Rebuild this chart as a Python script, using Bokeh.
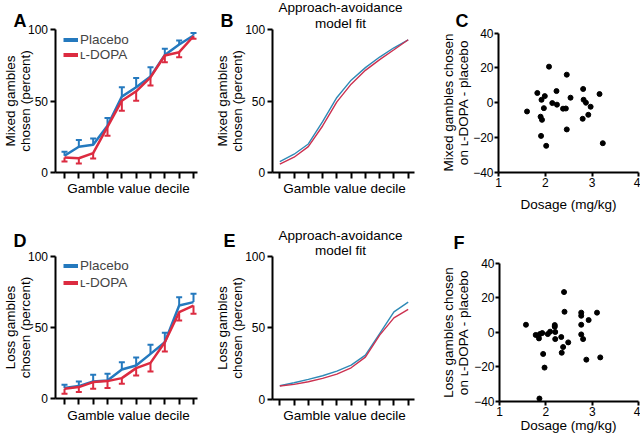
import math
from bokeh.plotting import figure
from bokeh.layouts import column, row
from bokeh.models import (Range1d, FixedTicker, Whisker, TeeHead, ColumnDataSource,
                          Label, Legend, LegendItem)
from bokeh.embed import file_html
from bokeh.resources import INLINE

FONT = "Liberation Sans"
BLUE = "#2479be"
RED = "#dc2b40"
BLUE_FIT = "#2e8ab6"
RED_FIT = "#cc3150"

# ---------------- data ----------------
deciles = [1, 2, 3, 4, 5, 6, 7, 8, 9, 10]
pct_ticks = [0, 50, 100]
diff_ticks = [-40, -20, 0, 20, 40]
dose_ticks = [1, 2, 3, 4]

mixed_placebo_mean = [11.7, 18.0, 19.4, 32.8, 53.2, 59.7, 67.2, 82.4, 89.7, 96.0]
mixed_placebo_sem = [2.8, 4.7, 4.5, 5.4, 6.5, 6.6, 6.6, 4.3, 2.8, 1.7]
mixed_ldopa_mean = [10.5, 10.0, 13.6, 32.0, 50.3, 56.9, 66.7, 82.0, 84.3, 95.5]
mixed_ldopa_sem = [2.8, 3.7, 3.8, 6.2, 7.0, 6.6, 5.8, 4.7, 3.5, 1.8]

loss_placebo_mean = [7.5, 8.9, 12.1, 12.9, 20.6, 23.4, 31.5, 39.7, 65.4, 67.8]
loss_placebo_sem = [2.3, 3.2, 4.7, 4.6, 5.1, 5.6, 6.4, 6.6, 5.9, 5.8]
loss_ldopa_mean = [7.0, 8.2, 11.7, 12.4, 14.5, 21.5, 25.2, 39.7, 60.7, 65.4]
loss_ldopa_sem = [3.5, 3.5, 4.7, 4.9, 4.0, 5.1, 6.0, 6.5, 5.8, 5.8]

fit_mixed_placebo = [7.7, 12.8, 20.0, 35.6, 52.6, 64.7, 73.5, 80.9, 87.4, 93.0]
fit_mixed_ldopa = [5.8, 10.7, 18.1, 32.6, 49.5, 61.9, 71.6, 79.1, 86.0, 93.0]
fit_loss_placebo = [9.3, 11.4, 13.8, 16.3, 19.6, 23.8, 30.8, 45.9, 61.1, 68.0]
fit_loss_ldopa = [9.1, 10.3, 12.1, 14.5, 17.5, 21.9, 29.4, 44.8, 56.9, 62.9]

dosage_mixed = [1.61, 1.83, 1.92, 1.99, 1.97, 1.90, 1.93, 1.91, 2.02, 2.08, 2.15, 2.24, 2.25,
                2.38, 2.44, 2.46, 2.54, 2.46, 2.81, 2.82, 2.87, 2.97, 2.92, 2.80, 3.16, 3.23]
diff_mixed = [-5.0, 5.6, 1.7, 3.8, -3.1, -8.0, -9.8, -19.0, -24.7, 20.7, -0.2, 6.7, -1.1,
              -3.4, -3.3, 16.1, 2.9, -15.3, 7.9, 1.7, 0.0, -2.3, -6.9, -9.2, 5.0, -23.2]

dosage_loss = [1.57, 1.78, 1.83, 1.85, 1.87, 1.92, 1.86, 1.94, 1.97, 2.04, 2.09, 2.19, 2.19,
               2.20, 2.20, 2.33, 2.37, 2.34, 2.39, 2.40, 2.48, 2.76, 2.76, 2.76, 2.76, 2.80,
               2.87, 2.92, 3.10, 3.17]
diff_loss = [4.4, -1.5, -1.9, -3.5, -1.0, -0.4, -38.3, -12.5, -20.4, -1.0, 0.4, 4.2, 3.2,
             0.2, -3.9, -2.7, -8.5, -11.8, 23.3, 11.9, -5.8, 11.4, 9.6, 4.4, -1.2, -3.9,
             -15.8, 7.1, 11.4, -14.5]

# ---------------- layout (pixels) ----------------
# tile = (left, top, width, height) of each panel on the page
# xmap / ymap = (value_a, pixel_a, value_b, pixel_b) placement of the data region
PANELS = {
    "A": dict(tile=(0, 0, 212, 213), xmap=(1, 64.0, 10, 193.0), ymap=(0, 172.0, 100, 29.3),
              yaxis_px=54.5, xend_px=196.7),
    "B": dict(tile=(212, 0, 213, 213), xmap=(1, 279.3, 10, 407.7), ymap=(0, 172.0, 100, 29.3),
              yaxis_px=271.7, xend_px=414.0),
    "C": dict(tile=(425, 0, 215, 213), xmap=(1, 498.0, 4, 638.3), ymap=(-40, 172.0, 40, 32.5),
              yaxis_px=498.0, xend_px=638.3),
    "D": dict(tile=(0, 213, 212, 222), xmap=(1, 64.0, 10, 193.0), ymap=(0, 398.3, 100, 255.7),
              yaxis_px=54.5, xend_px=196.7),
    "E": dict(tile=(212, 213, 213, 222), xmap=(1, 279.3, 10, 407.7), ymap=(0, 398.5, 100, 256.0),
              yaxis_px=271.7, xend_px=414.0),
    "F": dict(tile=(425, 213, 215, 222), xmap=(1, 499.0, 4, 638.3), ymap=(-40, 401.0, 40, 262.7),
              yaxis_px=499.0, xend_px=638.3),
}


def px_to_val(m, p):
    va, pa, vb, pb = m
    return va + (p - pa) * (vb - va) / (pb - pa)


def make_panel(key, x_is_decile):
    spec = PANELS[key]
    x0, y0, w, h = spec["tile"]
    xr = Range1d(px_to_val(spec["xmap"], x0), px_to_val(spec["xmap"], x0 + w))
    yr = Range1d(px_to_val(spec["ymap"], y0 + h), px_to_val(spec["ymap"], y0))
    p = figure(width=w, height=h, x_range=xr, y_range=yr, output_backend="svg",
               toolbar_location=None, min_border=0)
    p.outline_line_color = None
    p.grid.visible = False
    p.background_fill_color = "white"
    p.border_fill_color = "white"

    ya, yb = spec["ymap"][0], spec["ymap"][2]
    x_axis_val = px_to_val(spec["xmap"], spec["yaxis_px"])
    x_end_val = px_to_val(spec["xmap"], spec["xend_px"])

    xa = p.xaxis[0]
    yax = p.yaxis[0]
    for ax in (xa, yax):
        ax.axis_line_width = 2
        ax.axis_line_color = "black"
        ax.major_tick_line_width = 2
        ax.major_tick_line_color = "black"
        ax.major_tick_in = 0
        ax.minor_tick_in = 0
        ax.major_label_text_font = FONT
        ax.major_label_text_font_size = "12px"
        ax.major_label_text_color = "black"
    yax.fixed_location = x_axis_val
    yax.bounds = (min(ya, yb), max(ya, yb))
    xa.fixed_location = min(ya, yb)
    xa.bounds = (x_axis_val, x_end_val)
    yax.minor_tick_line_color = None
    if x_is_decile:
        yax.ticker = FixedTicker(ticks=pct_ticks)
        yax.major_tick_out = 5
        yax.major_label_standoff = 2
        xa.ticker = FixedTicker(ticks=[], minor_ticks=deciles)
        xa.major_tick_line_color = None
        xa.minor_tick_out = 6
        xa.minor_tick_line_width = 2
        xa.minor_tick_line_color = "black"
    else:
        yax.ticker = FixedTicker(ticks=diff_ticks)
        xa.ticker = FixedTicker(ticks=dose_ticks)
        xa.minor_tick_line_color = None
        for ax in (xa, yax):
            ax.major_tick_out = 4
            ax.major_label_standoff = 1
    return p


def add_text(p, key, px, py, text, size="13.5px", angle=0.0, align="center",
             baseline="middle", bold=False):
    x0, y0, w, h = PANELS[key]["tile"]
    p.add_layout(Label(x=px - x0, y=(y0 + h) - py, x_units="screen", y_units="screen",
                       text=text, angle=angle, text_font=FONT, text_font_size=size,
                       text_align=align, text_baseline=baseline, text_color="black",
                       text_font_style="bold" if bold else "normal"))


def ylabel(p, key, x1, x2, yc, line1, line2):
    add_text(p, key, x1, yc, line1, angle=math.pi / 2)
    add_text(p, key, x2, yc, line2, angle=math.pi / 2)


def letter(p, key, px, py, t):
    add_text(p, key, px, py, t, size="18px", align="left", baseline="alphabetic", bold=True)


def data_panel(p, key, pm, ps, lm, ls, leg_px, leg_bottom_py, spacing):
    up = [m + s for m, s in zip(pm, ps)]
    lo = [m - s for m, s in zip(lm, ls)]
    src_p = ColumnDataSource(dict(x=deciles, y=pm, top=up))
    src_l = ColumnDataSource(dict(x=deciles, y=lm, bot=lo))
    p.line("x", "y", source=src_p, line_color=BLUE, line_width=2.5)
    p.line("x", "y", source=src_l, line_color=RED, line_width=2.5)
    p.add_layout(Whisker(source=src_p, base="x", lower="y", upper="top", dimension="height",
                         line_color=BLUE, line_width=2, lower_head=None,
                         upper_head=TeeHead(size=6, line_color=BLUE, line_width=2)))
    p.add_layout(Whisker(source=src_l, base="x", lower="bot", upper="y", dimension="height",
                         line_color=RED, line_width=2, upper_head=None,
                         lower_head=TeeHead(size=6, line_color=RED, line_width=2)))
    # legend swatches: thicker copies of the series lines, kept hidden in the plot
    lp = p.line("x", "y", source=src_p, line_color=BLUE, line_width=4, visible=False)
    ll = p.line("x", "y", source=src_l, line_color=RED, line_width=4, visible=False)
    x0, y0, w, h = PANELS[key]["tile"]
    leg = Legend(items=[LegendItem(label="Placebo", renderers=[lp]),
                        LegendItem(label="\u029f-DOPA", renderers=[ll])],
                 location=(leg_px - x0, (y0 + h) - leg_bottom_py),
                 glyph_width=15, glyph_height=13, label_height=13, label_standoff=2,
                 spacing=spacing, padding=0, margin=0,
                 border_line_color=None, background_fill_alpha=0,
                 inactive_fill_alpha=0, click_policy="none",
                 label_text_font=FONT, label_text_font_size="13.5px")
    p.add_layout(leg)


def fit_panel(p, fb, fl):
    p.line(deciles, fb, line_color=BLUE_FIT, line_width=1.4)
    p.line(deciles, fl, line_color=RED_FIT, line_width=1.4)


# ---------------- panels ----------------
A = make_panel("A", True)
data_panel(A, "A", mixed_placebo_mean, mixed_placebo_sem, mixed_ldopa_mean, mixed_ldopa_sem,
           63, 62, 0)
ylabel(A, "A", 10, 25, 100.5, "Mixed gambles", "chosen (percent)")
add_text(A, "A", 128, 188, "Gamble value decile")
letter(A, "A", 13, 20, "A")

B = make_panel("B", True)
fit_panel(B, fit_mixed_placebo, fit_mixed_ldopa)
ylabel(B, "B", 222, 237, 100.5, "Mixed gambles", "chosen (percent)")
add_text(B, "B", 344, 188, "Gamble value decile")
add_text(B, "B", 340, 7, "Approach-avoidance")
add_text(B, "B", 340, 23, "model fit")
letter(B, "B", 220, 20, "B")

C = make_panel("C", False)
C.scatter(dosage_mixed, diff_mixed, size=5, color="black")
ylabel(C, "C", 448, 463, 102, "Mixed gambles chosen", "on \u029f-DOPA - placebo")
add_text(C, "C", 568, 204, "Dosage (mg/kg)")
letter(C, "C", 455, 20, "C")

D = make_panel("D", True)
data_panel(D, "D", loss_placebo_mean, loss_placebo_sem, loss_ldopa_mean, loss_ldopa_sem,
           63, 290, 2)
ylabel(D, "D", 10, 25, 327, "Loss gambles", "chosen (percent)")
add_text(D, "D", 128, 415, "Gamble value decile")
letter(D, "D", 13, 240, "D")

E = make_panel("E", True)
fit_panel(E, fit_loss_placebo, fit_loss_ldopa)
ylabel(E, "E", 222, 237, 327.5, "Loss gambles", "chosen (percent)")
add_text(E, "E", 344, 415, "Gamble value decile")
add_text(E, "E", 340, 235, "Approach-avoidance")
add_text(E, "E", 340, 250, "model fit")
letter(E, "E", 223, 240, "E")

F = make_panel("F", False)
F.scatter(dosage_loss, diff_loss, size=5, color="black")
ylabel(F, "F", 448, 463, 332, "Loss gambles chosen", "on \u029f-DOPA - placebo")
add_text(F, "F", 568, 425, "Dosage (mg/kg)")
letter(F, "F", 453, 242, "F")

layout = column(row(A, B, C), row(D, E, F))

with open("out.html", "w") as f:
    f.write(file_html(layout, INLINE))
